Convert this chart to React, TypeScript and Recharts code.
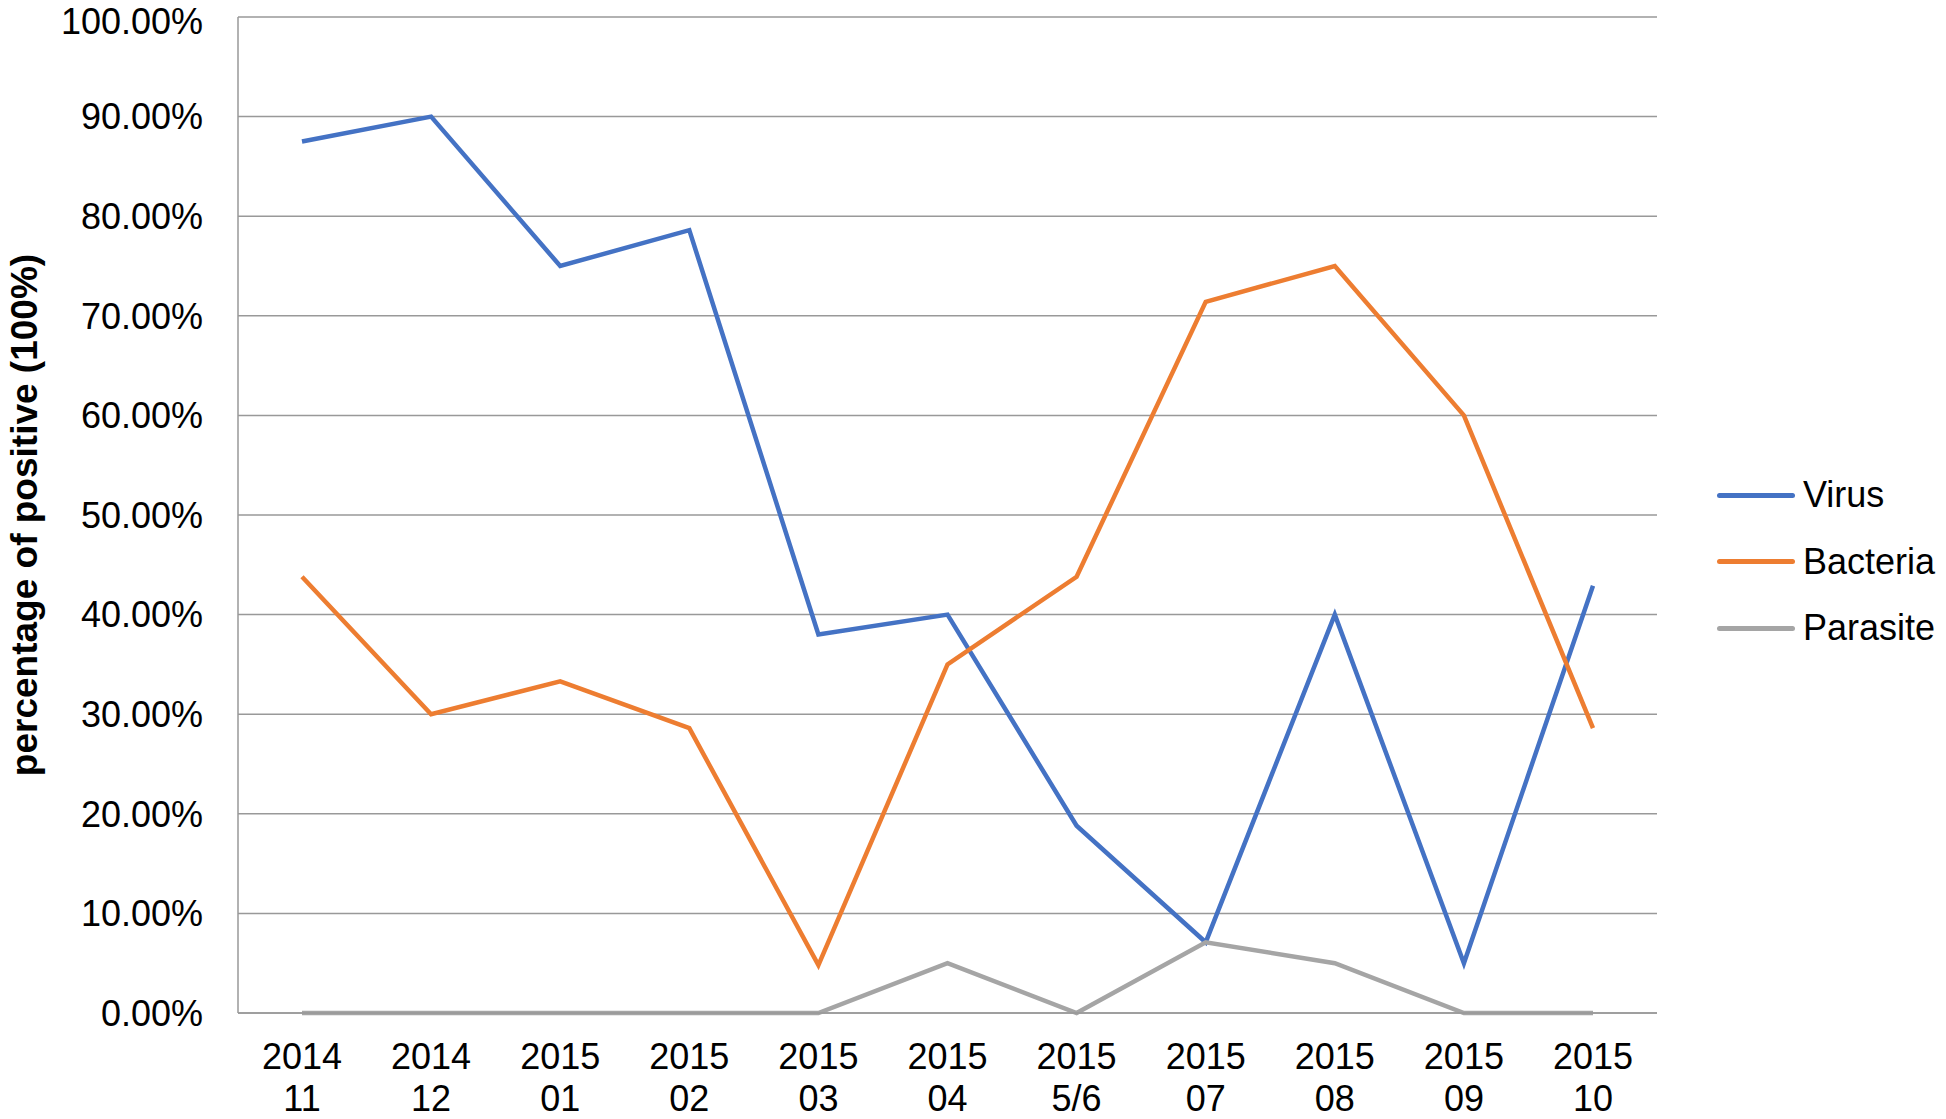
import React from 'react';
import {
  LineChart,
  Line,
  XAxis,
  YAxis,
  CartesianGrid,
} from 'recharts';

const categories = [
  '2014 11', '2014 12', '2015 01', '2015 02', '2015 03', '2015 04',
  '2015 5/6', '2015 07', '2015 08', '2015 09', '2015 10',
];

const virus = [87.5, 90.0, 75.0, 78.6, 38.0, 40.0, 18.8, 7.1, 40.0, 5.0, 42.9];
const bacteria = [43.8, 30.0, 33.3, 28.6, 4.8, 35.0, 43.8, 71.4, 75.0, 60.0, 28.6];
const parasite = [0, 0, 0, 0, 0, 5.0, 0, 7.1, 5.0, 0, 0];

const yTicks = [0, 10, 20, 30, 40, 50, 60, 70, 80, 90, 100];

const series = [
  { key: 'virus', name: 'Virus', color: '#4472C4' },
  { key: 'bacteria', name: 'Bacteria', color: '#ED7D31' },
  { key: 'parasite', name: 'Parasite', color: '#A5A5A5' },
];

const data = categories.map((cat, i) => ({
  cat,
  virus: virus[i],
  bacteria: bacteria[i],
  parasite: parasite[i],
}));

const FONT = '"Liberation Sans", Arial, sans-serif';
const GRID = '#999999';

function XTick({ x, y, payload }: any) {
  const [top, bottom] = String(payload.value).split(' ');
  return (
    <text x={x} y={y} textAnchor="middle" fontFamily={FONT} fontSize={36} fill="#000">
      <tspan x={x} dy={56}>{top}</tspan>
      <tspan x={x} dy={42}>{bottom}</tspan>
    </text>
  );
}

export default function App() {
  return (
    <div style={{ position: 'fixed', left: 0, top: 0, width: 1946, height: 1119, background: '#fff' }}>
      <LineChart
        width={1946}
        height={1119}
        data={data}
        margin={{ top: 17, right: 289, bottom: 0, left: 0 }}
      >
        <CartesianGrid vertical={false} stroke={GRID} strokeWidth={1.5} />
        <XAxis
          dataKey="cat"
          height={106}
          padding={{ left: 64, right: 64 }}
          tickLine={false}
          tickSize={0}
          tickMargin={0}
          axisLine={{ stroke: GRID, strokeWidth: 1.5 }}
          tick={<XTick />}
          interval={0}
        />
        <YAxis
          domain={[0, 100]}
          ticks={yTicks}
          width={238}
          tickLine={false}
          tickSize={0}
          tickMargin={35}
          axisLine={{ stroke: GRID, strokeWidth: 1.5 }}
          tickFormatter={(v: number) => `${v.toFixed(2)}%`}
          tick={{ fontFamily: FONT, fontSize: 36, fill: '#000' }}
          label={{
            content: () => (
              <text
                x={24}
                y={515}
                transform="rotate(-90 24 515)"
                textAnchor="middle"
                dominantBaseline="central"
                fontFamily={FONT}
                fontWeight="bold"
                fontSize={37}
                fill="#000"
              >
                percentage of positive (100%)
              </text>
            ),
          }}
        />
        {series.map((s) => (
          <Line
            key={s.key}
            type="linear"
            dataKey={s.key}
            name={s.name}
            stroke={s.color}
            strokeWidth={4.5}
            dot={false}
            activeDot={false}
            isAnimationActive={false}
          />
        ))}
      </LineChart>
      <div style={{ position: 'absolute', left: 1717, top: 462, fontFamily: FONT, fontSize: 36, color: '#000' }}>
        {series.map((s) => (
          <div key={s.key} style={{ display: 'flex', alignItems: 'center', height: 66.5 }}>
            <div style={{ width: 78, height: 5, background: s.color, borderRadius: 2.5, marginRight: 8 }} />
            <span>{s.name}</span>
          </div>
        ))}
      </div>
    </div>
  );
}
